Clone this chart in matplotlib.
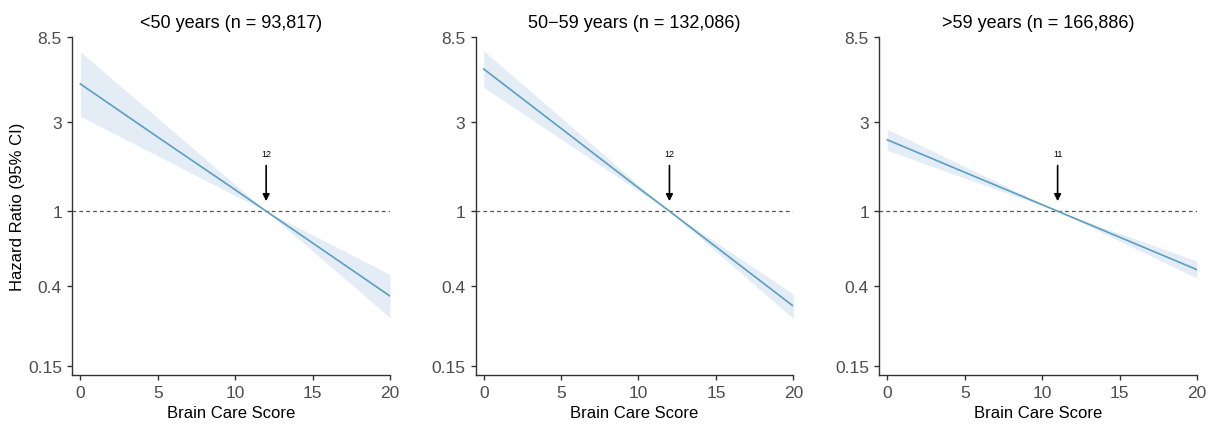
import numpy as np
import matplotlib.pyplot as plt

plt.rcParams['font.family'] = ['Liberation Sans', 'DejaVu Sans']

# panel titles and reference points (score where HR = 1)
titles = ['<50 years (n = 93,817)', '50\u221259 years (n = 132,086)', '>59 years (n = 166,886)']
ref_scores = [12, 12, 11]

# hazard ratios, per age group
score_young = [0, 5, 10, 12, 15, 20]
hr_young = [4.76, 2.48, 1.30, 1.0, 0.677, 0.353]
hr_young_lo = [3.20, 1.97, 1.21, 1.0, 0.613, 0.271]
hr_young_hi = [7.07, 3.13, 1.385, 1.0, 0.748, 0.46]

score_mid = [0, 5, 10, 12, 15, 20]
hr_mid = [5.72, 2.76, 1.33, 1.0, 0.646, 0.312]
hr_mid_lo = [4.57, 2.42, 1.284, 1.0, 0.611, 0.268]
hr_mid_hi = [7.16, 3.15, 1.38, 1.0, 0.683, 0.362]

score_old = [0, 5, 10, 11, 15, 20]
hr_old = [2.40, 1.61, 1.083, 1.0, 0.727, 0.488]
hr_old_lo = [2.11, 1.50, 1.070, 1.0, 0.694, 0.440]
hr_old_hi = [2.73, 1.73, 1.096, 1.0, 0.762, 0.542]

y_ticks = [0.15, 0.4, 1, 3, 8.5]
y_ticklabels = ['0.15', '0.4', '1', '3', '8.5']
x_ticks = [0, 5, 10, 15, 20]

panels = [
    (score_young, hr_young, hr_young_lo, hr_young_hi),
    (score_mid, hr_mid, hr_mid_lo, hr_mid_hi),
    (score_old, hr_old, hr_old_lo, hr_old_hi),
]

line_col = '#5b9ec4'
band_col = '#e4edf6'
text_col = '#4d4d4d'

fig = plt.figure(figsize=(12.1, 4.27), dpi=100)
lefts = [0.0598, 0.3931, 0.7267]
width = 0.2625
bottom, height = 0.1194, 0.7923

for i, (x, hr, lo, hi) in enumerate(panels):
    ax = fig.add_axes([lefts[i], bottom, width, height])
    ax.fill_between(x, lo, hi, color=band_col, lw=0, zorder=1)
    ax.plot(x, hr, color=line_col, lw=1.2, zorder=3)
    ax.axhline(1, color='#555555', lw=0.9, ls=(0, (3, 2.5)), zorder=2)

    # arrow marking the score at which HR crosses 1
    ref = ref_scores[i]
    ax.annotate('', xy=(ref, 1.13), xytext=(ref, 1.75),
                arrowprops=dict(arrowstyle='-|>', color='black', lw=1.2,
                                mutation_scale=10, shrinkA=0, shrinkB=0))
    ax.text(ref, 1.93, str(ref), ha='center', va='bottom', fontsize=6.5, color='black')

    ax.set_yscale('log')
    ax.set_ylim(0.134, 8.5)
    ax.set_xlim(-0.52, 20)
    ax.set_yticks(y_ticks)
    ax.set_yticklabels(y_ticklabels)
    ax.minorticks_off()
    ax.set_xticks(x_ticks)

    for side in ['top', 'right']:
        ax.spines[side].set_visible(False)
    for side in ['left', 'bottom']:
        ax.spines[side].set_color('#333333')
        ax.spines[side].set_linewidth(1.0)
    ax.tick_params(axis='both', length=3.5, width=1.0, color='#333333',
                   labelsize=12.5, labelcolor=text_col, pad=4)

    ax.set_title(titles[i], fontsize=13, color='black', pad=7)
    ax.set_xlabel('Brain Care Score', fontsize=12, color='black', labelpad=3)
    if i == 0:
        ax.set_ylabel('Hazard Ratio (95% CI)', fontsize=12, color='black', labelpad=2)

fig.savefig('out.png', dpi=100)
